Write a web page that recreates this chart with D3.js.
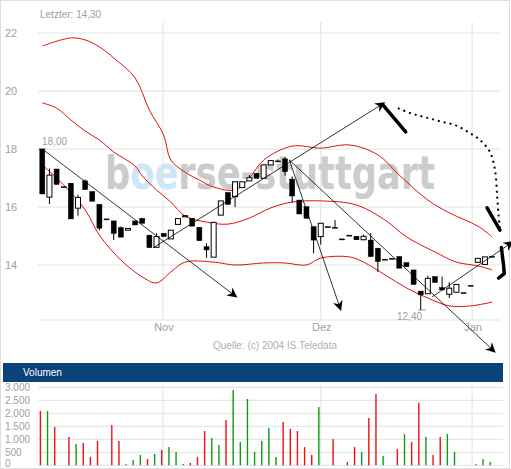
<!DOCTYPE html>
<html><head><meta charset="utf-8">
<script src="https://cdn.jsdelivr.net/npm/d3@7"></script>
<style>body{margin:0;background:#fff}svg{display:block;font-family:Arial,"Liberation Sans",sans-serif}</style>
</head><body><svg id="c" width="511" height="469"></svg>
<script>
// [open, high, low, close] per trading day (index = position)
const candles = [
[18.0,18.0,16.45,16.45],[16.34,17.33,16.1,17.1],[17.31,17.31,16.78,16.78],[16.7,16.7,16.7,16.7],
[16.82,16.82,15.59,15.59],[15.96,16.43,15.7,16.33],[16.9,16.95,16.6,16.6],[16.53,16.53,16.2,16.2],
[16.09,16.09,15.2,15.27],[15.59,15.59,15.59,15.59],[15.52,15.52,14.86,15.09],[15.29,15.33,14.96,14.96],
[15.2,15.26,15.2,15.26],[15.52,15.52,15.38,15.38],[15.61,15.61,15.44,15.44],[15.03,15.03,14.6,14.6],
[14.61,15.1,14.61,14.98],[15.09,15.09,14.98,14.98],[14.9,15.2,14.9,15.2],[15.4,15.6,15.4,15.6],
[15.66,15.7,15.66,15.7],[15.61,15.61,15.34,15.34],[15.3,15.3,14.84,14.84],[14.63,14.75,14.25,14.52],
[14.27,15.47,14.27,15.47],[15.72,16.21,15.72,16.21],[16.5,16.5,16.09,16.09],[16.36,16.87,16.0,16.87],
[16.67,16.87,16.67,16.87],[16.9,17.1,16.9,17.01],[17.16,17.16,16.99,16.99],[16.99,17.45,16.99,17.45],
[17.45,17.6,17.45,17.6],[17.59,17.64,17.59,17.59],[17.66,17.72,17.08,17.22],[16.96,17.05,16.15,16.38],
[16.24,16.24,15.76,15.76],[16.01,16.01,15.61,15.61],[15.32,15.32,14.4,14.86],[14.98,15.44,14.7,15.44],
[15.32,15.32,15.32,15.32],[15.3,15.55,15.3,15.3],[14.9,14.9,14.9,14.9],[15.03,15.03,15.03,15.03],
[14.99,14.99,14.87,14.87],[14.87,15.05,14.87,14.99],[14.86,15.1,14.29,14.29],[14.58,14.58,13.76,14.12],
[14.2,14.2,14.2,14.2],[14.23,14.23,14.23,14.23],[14.29,14.29,13.89,13.89],[14.08,14.08,13.94,13.94],
[13.83,13.83,13.33,13.33],[13.1,13.1,12.45,12.97],[13.01,13.63,13.01,13.54],[13.6,13.6,13.4,13.4],
[13.22,13.6,13.14,13.14],[12.99,13.4,12.86,13.2],[13.06,13.33,13.06,13.33],[13.05,13.05,13.05,13.05],
[13.3,13.3,13.3,13.3],[14.09,14.23,14.09,14.23],[14.02,14.28,14.02,14.28],[14.3,14.3,14.3,14.3]];
const volume = [2090,2090,1474,0,1090,820,860,320,940,0,1550,940,50,200,400,240,440,590,700,510,50,90,320,1320,1050,780,1740,2900,900,2550,510,940,1440,320,1670,1400,1320,700,400,2240,0,1010,0,130,700,510,1820,2740,360,0,630,1200,900,2400,1090,400,1090,1200,510,0,0,50,240,130];
const volUp = [0,1,0,0,0,1,0,0,0,0,0,0,1,1,1,0,1,0,1,1,1,0,0,0,1,1,0,1,1,1,1,1,1,1,0,0,0,0,0,1,0,0,0,0,0,1,0,0,1,0,0,1,0,0,1,0,0,1,1,0,0,1,1,1];
const upper = [[0,21.55],[4,21.83],[6,21.76],[8,21.52],[10,21.14],[13,20.45],[15,19.34],[17,18.48],[18,17.62],[20,17.2],[22,16.93],[24,16.69],[27,16.59],[29,17.0],[31,17.62],[35,18.1],[39,18.03],[43,18.14],[47,17.8],[50,17.1],[54,16.24],[57,15.8],[61,15.34],[63,14.97]];
const middle = [[0,19.59],[2,19.41],[4,19.0],[6,18.62],[8,18.31],[10,17.9],[13,17.41],[14,17.07],[16,16.59],[18,16.17],[20,15.69],[23,15.48],[26,15.41],[29,15.62],[32,15.97],[35,16.17],[39,16.21],[44,16.07],[48,15.55],[51,14.97],[55,14.45],[58,14.1],[61,13.97],[63,13.83]];
const lower = [[0,17.45],[3,16.76],[6,15.9],[8,15.03],[11,14.17],[14,13.59],[16,13.38],[18,13.76],[20,14.1],[24,14.1],[27,14.0],[31,14.07],[34,14.07],[37,14.0],[39,14.24],[43,14.28],[45,14.1],[48,13.66],[51,13.21],[54,12.86],[57,12.59],[60,12.59],[63,12.72]];
const trends = [[[0,18.0],[27.2,12.9]],[[15.5,14.59],[47.9,19.59]],[[34.6,17.62],[63.4,11.0]],[[34.6,17.62],[41.8,12.45]],[[54.6,12.9],[65.9,14.8]]];
const scribbleThick = [[[47.7,19.52],[50.9,18.59]],[[62.3,15.97],[64.1,15.2]],[[64.3,14.6],[64.6,14.0],[64.7,13.7],[63.9,13.55]]];
const scribbleDots = [[49.8,19.41],[51.5,19.24],[52.9,19.14],[54.6,19.03],[56.1,18.93],[57.8,18.83],[59.6,18.59],[61.3,18.31],[62.7,17.9],[63.4,17.28],[63.7,16.41],[63.9,15.72],[64.1,15.28]];
const priceTicks = [22,20,18,16,14];
const volTicks = [0,500,1000,1500,2000,2500,3000];
const months = [["Nov",16.9],["Dez",39],["Jan",60.2]];

const svg = d3.select("#c");
const x = d3.scaleLinear().domain([0,63]).range([42.3,492.1]);
const y = d3.scaleLinear().domain([22,12]).range([33,323]);
const yv = d3.scaleLinear().domain([0,3000]).range([465.3,387.3]);
const grid="#e2e2e2", txt="#a0a0a0";

svg.append("rect").attr("x",0.5).attr("y",0.5).attr("width",509).attr("height",468).attr("fill","none").attr("stroke","#ddd");
svg.append("g").selectAll("line").data(priceTicks).join("line").attr("x1",38).attr("x2",500)
 .attr("y1",d=>y(d)).attr("y2",d=>y(d)).attr("stroke",grid);
svg.append("g").selectAll("line").data(months).join("line").attr("x1",d=>x(d[1])).attr("x2",d=>x(d[1]))
 .attr("y1",22).attr("y2",320).attr("stroke",grid);
svg.append("line").attr("x1",38).attr("x2",500).attr("y1",320).attr("y2",320).attr("stroke",grid);
svg.append("g").selectAll("text").data(priceTicks).join("text").attr("x",5).attr("y",d=>y(d)+4)
 .attr("font-size",11).attr("fill",txt).text(d=>d);
svg.append("g").selectAll("text").data(months).join("text").attr("x",d=>x(d[1])+1).attr("y",331)
 .attr("font-size",11).attr("fill",txt).attr("text-anchor","middle").text(d=>d[0]);
svg.append("text").attr("x",40).attr("y",18).attr("font-size",10).attr("fill",txt).text("Letzter: 14,30");
svg.append("text").attr("x",42).attr("y",145).attr("font-size",10).attr("fill",txt).text("18,00");
svg.append("text").attr("x",397).attr("y",320).attr("font-size",10).attr("fill",txt).text("12,40");
svg.append("line").attr("x1",38).attr("x2",46).attr("y1",y(18)).attr("y2",y(18)).attr("stroke",txt);
svg.append("line").attr("x1",418).attr("x2",426).attr("y1",y(12.45)).attr("y2",y(12.45)).attr("stroke",txt);
svg.append("text").attr("x",275).attr("y",349).attr("font-size",10).attr("fill","#b0b0b0").attr("text-anchor","middle").text("Quelle: (c) 2004 IS.Teledata");
// watermark
const wm = svg.append("text").attr("x",105).attr("y",189).attr("font-size",46)
 .attr("font-family","'DejaVu Sans',sans-serif").attr("font-weight","bold").attr("fill","#cccccc")
 .attr("textLength",330).attr("lengthAdjust","spacingAndGlyphs");
wm.append("tspan").text("b"); wm.append("tspan").attr("fill","#cde7f7").text("oe"); wm.append("tspan").text("rse-stuttgart");
const line = d3.line().x(d=>x(d[0])).y(d=>y(d[1])).curve(d3.curveCatmullRom);
[upper,middle,lower].forEach(b=>svg.append("path").attr("d",line(b)).attr("fill","none").attr("stroke","#e01010").attr("stroke-width",1));
const cg = svg.append("g");
candles.forEach((c,i)=>{
  const [o,h,l,cl]=c, cx=x(i), up = cl>o;
  cg.append("line").attr("x1",cx).attr("x2",cx).attr("y1",y(h)).attr("y2",y(l)).attr("stroke","#000");
  const top=y(Math.max(o,cl)), bot=y(Math.min(o,cl));
  cg.append("rect").attr("x",cx-2.5).attr("y",top).attr("width",5).attr("height",Math.max(1,bot-top))
   .attr("fill",up?"#fff":"#000").attr("stroke","#000").attr("stroke-width",up?1:0.5);
});
svg.append("defs").append("marker").attr("id","ah").attr("viewBox","0 0 10 10").attr("refX",9).attr("refY",5)
 .attr("markerWidth",14).attr("markerHeight",10).attr("orient","auto").attr("markerUnits","userSpaceOnUse")
 .append("path").attr("d","M0,0L10,5L0,10L3,5Z").attr("fill","#000");
trends.forEach(t=>svg.append("line").attr("x1",x(t[0][0])).attr("y1",y(t[0][1])).attr("x2",x(t[1][0])).attr("y2",y(t[1][1]))
 .attr("stroke","#000").attr("stroke-width",0.8).attr("marker-end","url(#ah)"));
const sl = d3.line().x(d=>x(d[0])).y(d=>y(d[1])).curve(d3.curveLinear);
scribbleThick.forEach(s=>svg.append("path").attr("d",sl(s)).attr("fill","none").attr("stroke","#000").attr("stroke-width",3.5).attr("stroke-linecap","round").attr("stroke-linejoin","round"));
svg.append("path").attr("d",d3.line().x(d=>x(d[0])).y(d=>y(d[1])).curve(d3.curveCatmullRom)(scribbleDots)).attr("fill","none").attr("stroke","#000").attr("stroke-width",2).attr("stroke-dasharray","2 4");
svg.append("rect").attr("x",3).attr("y",363).attr("width",500).attr("height",19).attr("fill","#0b4279");
svg.append("text").attr("x",23).attr("y",376).attr("font-size",10).attr("fill","#fff").text("Volumen");
svg.append("g").selectAll("line").data(volTicks).join("line").attr("x1",38).attr("x2",503)
 .attr("y1",d=>yv(d)).attr("y2",d=>yv(d)).attr("stroke",grid);
svg.append("g").selectAll("line").data(months).join("line").attr("x1",d=>x(d[1])).attr("x2",d=>x(d[1]))
 .attr("y1",385).attr("y2",466).attr("stroke",grid);
svg.append("g").selectAll("text").data(volTicks).join("text").attr("x",5).attr("y",d=>Math.min(yv(d)+4,467))
 .attr("font-size",10).attr("fill",txt).text(d=>d3.format(",")(d).replace(/,/g,"."));
svg.append("g").selectAll("rect").data(volume.map((v,i)=>[v,i]).filter(d=>d[0]>0)).join("rect")
 .attr("x",d=>x(d[1])-2.6).attr("width",1.4).attr("y",d=>yv(d[0])).attr("height",d=>yv(0)-yv(d[0]))
 .attr("fill",d=>volUp[d[1]]?"#109a10":"#ee1111");
</script></body></html>
